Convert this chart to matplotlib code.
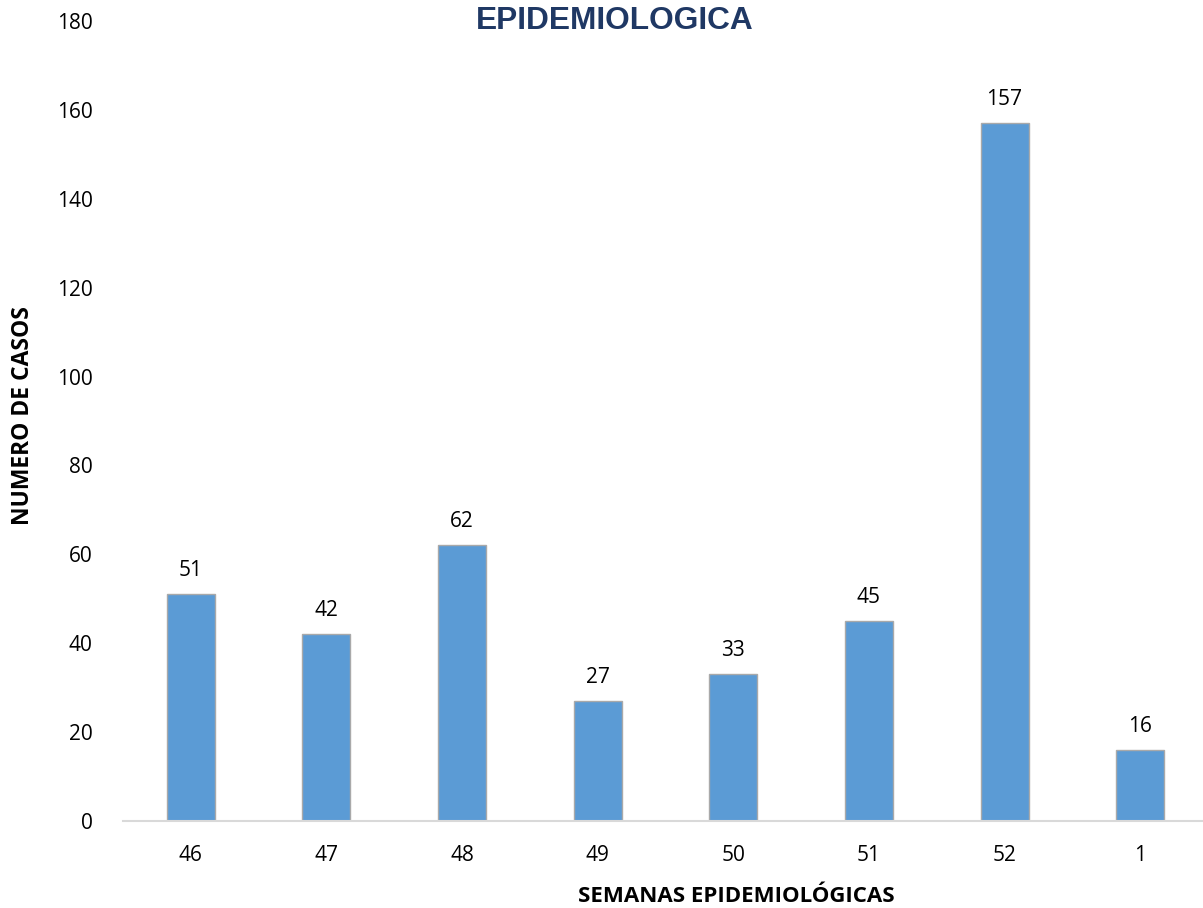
import matplotlib.pyplot as plt

semanas = ["46", "47", "48", "49", "50", "51", "52", "1"]
casos = [51, 42, 62, 27, 33, 45, 157, 16]
y_ticks = [0, 20, 40, 60, 80, 100, 120, 140, 160, 180]

W, H = 1203, 908
fig = plt.figure(figsize=(W / 100, H / 100), dpi=100)
# axes: left edge x=123, baseline y=821, top y=21; slot width ~135.6 px
ax = fig.add_axes([123 / W, 87 / H, 1085 / W, 800 / H])

x = list(range(len(semanas)))
ax.bar(x, casos, width=0.354, color="#5B9BD5", edgecolor="#A9A9A9", linewidth=1, zorder=2)

for xi, v in zip(x, casos):
    ax.annotate(str(v), (xi, v), xytext=(0, 18), textcoords="offset pixels",
                ha="center", va="baseline", fontsize=15, family="Open Sans", color="#000000")

ax.set_xlim(-0.5, len(semanas) - 0.5)
ax.set_ylim(0, 180)
ax.set_yticks(y_ticks)
ax.set_xticks(x)
ax.set_xticklabels(semanas)

for s in ["top", "right", "left"]:
    ax.spines[s].set_visible(False)
ax.spines["bottom"].set_color("#D9D9D9")
ax.spines["bottom"].set_linewidth(1.5)
ax.tick_params(axis="both", length=0, labelsize=15)
ax.tick_params(axis="y", pad=22)
ax.tick_params(axis="x", pad=17)
for lbl in ax.get_xticklabels() + ax.get_yticklabels():
    lbl.set_family("Open Sans")

fig.text(615 / W, 1 - 21 / H, "EPIDEMIOLOGICA", ha="center", va="center",
         fontsize=22.8, fontweight="bold", color="#1F3864", family="Liberation Sans")
fig.text(736 / W, 1 - 896 / H, "SEMANAS EPIDEMIOLÓGICAS", ha="center", va="center",
         fontsize=16, fontweight="bold", family="Open Sans")
fig.text(23 / W, 1 - 416 / H, "NUMERO DE CASOS", ha="center", va="center", rotation=90,
         fontsize=16.5, fontweight="bold", family="Open Sans")

fig.savefig("out.png", dpi=100)
